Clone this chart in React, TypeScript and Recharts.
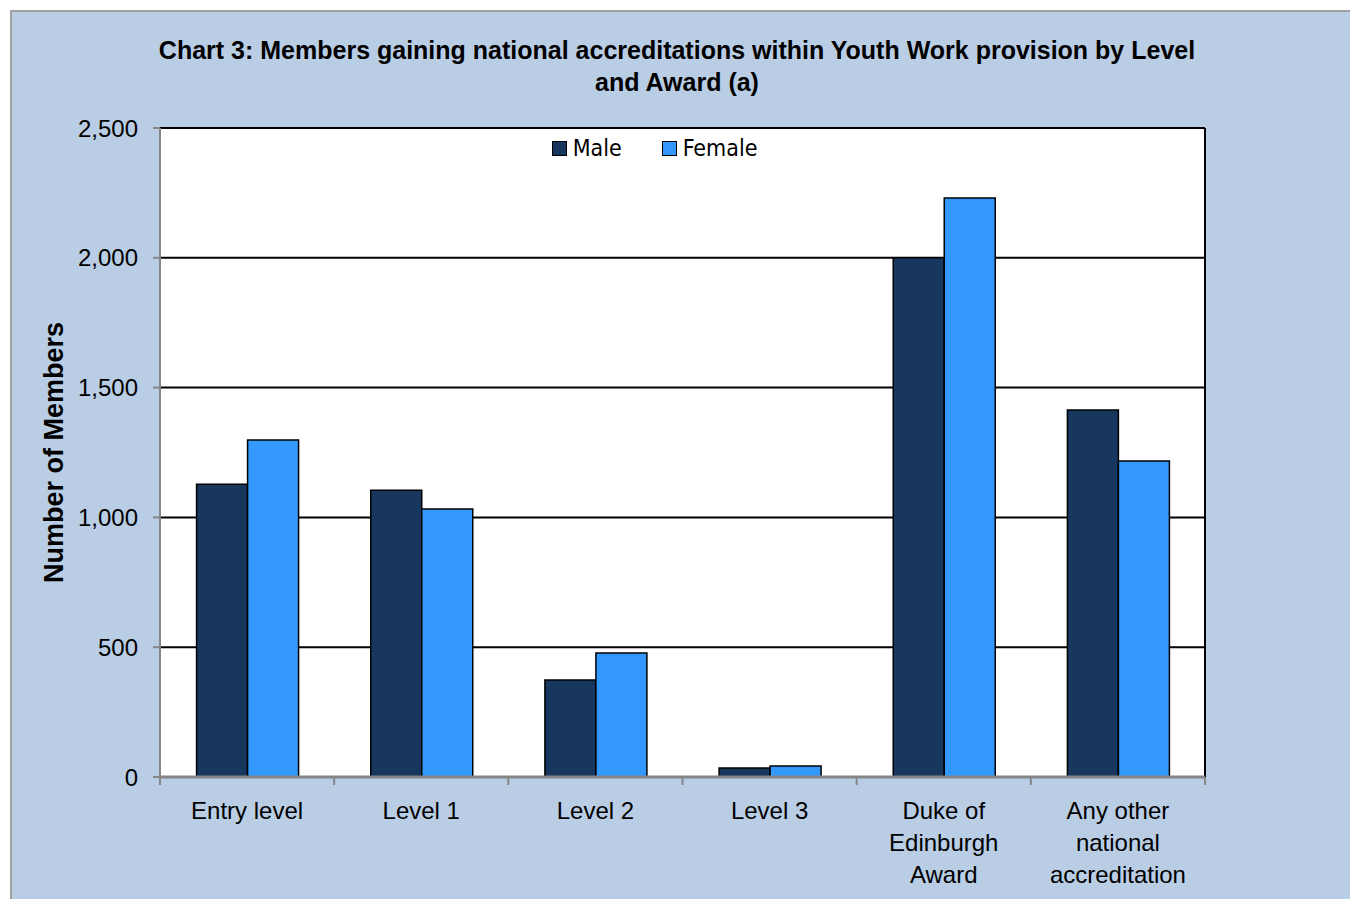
import {
  BarChart,
  Bar,
  XAxis,
  YAxis,
  CartesianGrid,
  Legend,
} from "recharts";

const categories = [
  "Entry level",
  "Level 1",
  "Level 2",
  "Level 3",
  "Duke of\nEdinburgh\nAward",
  "Any other\nnational\naccreditation",
];
const male = [1128, 1105, 374, 35, 2000, 1414];
const female = [1298, 1032, 478, 42, 2230, 1217];
const yTicks = [0, 500, 1000, 1500, 2000, 2500];

const data = categories.map((c, i) => ({ c, male: male[i], female: female[i] }));

const MALE = "#17375e";
const FEMALE = "#3399ff";
const FONT = "'Liberation Sans', Arial, sans-serif";

const W = 1340;
const H = 889;
const M = { top: 118, right: 145, bottom: 22, left: 0 };
const Y_W = 150;
const BAND = (W - M.left - M.right - Y_W) / categories.length;

// category label plus the small tick marks at the category edges
function CatTick({ x, y, payload, index }: any) {
  const lines = String(payload.value).split("\n");
  const half = BAND / 2;
  const ticks = index === 0 ? [x - half, x + half] : [x + half];
  return (
    <g>
      {ticks.map((tx, i) => (
        <line key={i} x1={tx} x2={tx} y1={y - 8} y2={y} stroke="#868686" strokeWidth={2} />
      ))}
      <text x={x} y={y} textAnchor="middle" fontFamily={FONT} fontSize={24} fill="#000">
        {lines.map((l, i) => (
          <tspan key={i} x={x} dy={i === 0 ? 34 : 32}>
            {l}
          </tspan>
        ))}
      </text>
    </g>
  );
}

function LegendBox() {
  const item = (color: string, label: string) => (
    <span style={{ display: "inline-flex", alignItems: "center", margin: "0 20px" }}>
      <span
        style={{
          width: 13,
          height: 13,
          background: color,
          border: "1px solid #000",
          marginRight: 6,
        }}
      />
      <span style={{ fontFamily: "'DejaVu Sans Condensed', 'DejaVu Sans', sans-serif", fontSize: 23 }}>
        {label}
      </span>
    </span>
  );
  return (
    <div style={{ textAlign: "center", marginLeft: -56 }}>
      {item(MALE, "Male")}
      {item(FEMALE, "Female")}
    </div>
  );
}

export default function App() {
  return (
    <div
      style={{
        position: "absolute",
        left: 10,
        top: 10,
        width: W,
        height: H,
        background: "#b9cde5",
        borderLeft: "2px solid #a0a0a0",
        borderTop: "2px solid #a0a0a0",
        boxSizing: "border-box",
        overflow: "hidden",
      }}
    >
      <div
        style={{
          position: "absolute",
          left: 0,
          top: 22,
          width: 1330,
          textAlign: "center",
          fontFamily: FONT,
          fontWeight: "bold",
          fontSize: 25,
          lineHeight: "32px",
        }}
      >
        Chart 3: Members gaining national accreditations within Youth Work provision by Level
        <br />
        and Award (a)
      </div>
      <div style={{ position: "absolute", left: -2, top: -2 }}>
        <BarChart
          width={W}
          height={H}
          data={data}
          margin={M}
          barCategoryGap="21%"
          barGap={0}
        >
          <CartesianGrid
            stroke="#000"
            strokeWidth={2}
            fill="#fff"
            verticalCoordinatesGenerator={({ offset }: any) => [offset.left + offset.width]}
          />
          <XAxis
            dataKey="c"
            interval={0}
            height={100}
            axisLine={{ stroke: "#868686", strokeWidth: 3 }}
            tickLine={false}
            tickSize={8}
            tickMargin={0}
            tick={<CatTick />}
          />
          <YAxis
            domain={[0, 2500]}
            ticks={yTicks}
            width={Y_W}
            tickFormatter={(v) => Number(v).toLocaleString("en-US")}
            tick={{ fontFamily: FONT, fontSize: 24, fill: "#000" }}
            axisLine={{ stroke: "#868686", strokeWidth: 2 }}
            tickLine={{ stroke: "#868686", strokeWidth: 2 }}
            tickSize={7}
            tickMargin={15}
            label={{
              value: "Number of Members",
              angle: -90,
              position: "left",
              offset: -43,
              style: { fontFamily: FONT, fontSize: 27, fontWeight: "bold", fill: "#000", textAnchor: "middle" },
            }}
          />
          <Legend
            verticalAlign="middle"
            content={<LegendBox />}
            wrapperStyle={{ top: 125, left: 150, width: 1045 }}
          />
          <Bar dataKey="male" name="Male" fill={MALE} stroke="#000" strokeWidth={1.5} isAnimationActive={false} />
          <Bar dataKey="female" name="Female" fill={FEMALE} stroke="#000" strokeWidth={1.5} isAnimationActive={false} />
        </BarChart>
      </div>
    </div>
  );
}
